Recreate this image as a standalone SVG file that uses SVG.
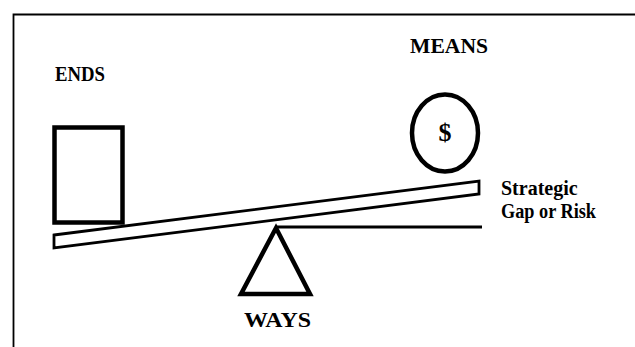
<svg xmlns="http://www.w3.org/2000/svg" width="635" height="347" viewBox="0 0 635 347">
<style>
text{font-family:'Liberation Serif','Times New Roman',Tinos,serif;font-weight:bold;fill:#000}
.thick{fill:none;stroke:#000;stroke-width:4.5}
</style>
<rect width="635" height="347" fill="#fff"/>
<g id="frame"><polyline points="13.5,347 13.5,14.5 635,14.5" fill="none" stroke="#000" stroke-width="1.8"/></g>
<g id="ends-label"><text x="55" y="81" font-size="22" textLength="50" lengthAdjust="spacingAndGlyphs" font-family="Liberation Serif, serif">ENDS</text></g>
<g id="means-label"><text x="410" y="53" font-size="22" textLength="78" lengthAdjust="spacingAndGlyphs" font-family="Liberation Serif, serif">MEANS</text></g>
<g id="ends-box"><rect class="thick" x="54.5" y="127.5" width="68" height="95"/></g>
<g id="means-coin"><ellipse class="thick" cx="445" cy="133" rx="33" ry="38.5"/><text x="445" y="141" font-size="26" text-anchor="middle" font-family="Liberation Serif, serif">$</text></g>
<g id="beam"><polygon points="54,235 479,181 479,194 54,248" fill="#fff" stroke="#000" stroke-width="2.8" stroke-linejoin="miter"/></g>
<g id="connectors"><line x1="276" y1="227" x2="482" y2="227" stroke="#000" stroke-width="3"/></g>
<g id="fulcrum"><polygon class="thick" points="276,228 241,294 310,294" fill="#fff"/></g>
<g id="ways-label"><text x="244" y="327" font-size="22" textLength="67" lengthAdjust="spacingAndGlyphs" font-family="Liberation Serif, serif">WAYS</text></g>
<g id="gap-label"><text font-size="20" font-family="Liberation Serif, serif"><tspan x="501" y="195">Strategic</tspan><tspan x="501" y="218" textLength="95" lengthAdjust="spacingAndGlyphs">Gap or Risk</tspan></text></g>
</svg>
